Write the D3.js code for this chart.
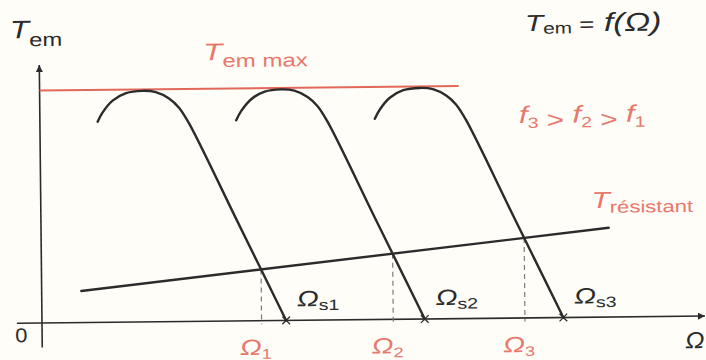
<!DOCTYPE html>
<html>
<head>
<meta charset="utf-8">
<script src="https://cdn.jsdelivr.net/npm/d3@7"></script>
<style>
  html, body { margin: 0; padding: 0; background: #fefdf8; }
  svg { display: block; }
  text { font-family: "Liberation Sans", Arial, sans-serif; }
</style>
</head>
<body>
<div id="viz"></div>
<script>
//Vitesses de synchronisme (une par fréquence f1, f2, f3)
const omegaS = [74, 116, 158];
const freqIndex = ['1', '2', '3'];

//Forme de la caractéristique Tem(Ω), écart par rapport à Ωs
const slipOffset = [-56.5, -55.0, -51.9, -47.8, -42.8, -38.8, -34.8, -31.8, -28.8, -14.4, 0];
const torqueShape = [86.3, 90.2, 95.3, 98.5, 99.4, 98.8, 96.0, 92.0, 85.2, 42.6, 0];

//Couple maximal
const tMax = 100;
const tMaxOmega = [0, 127];

//Couple résistant (droite)
const resistantOmega = [12, 172];
const resistantTorque = [13.6, 38.4];

//Couleurs
const COLOR_LINE = '#2b2b2b',
  COLOR_RED = '#e2685a',
  COLOR_RED_TEXT = '#e8786c',
  COLOR_DASH = '#7a7a7a';

const width = 706, height = 360;

const svg = d3.select('#viz')
  .append('svg')
    .attr('width', width)
    .attr('height', height);

svg.append('defs').append('marker')
    .attr('id', 'arrow')
    .attr('viewBox', '0 0 10 10')
    .attr('refX', 10).attr('refY', 5)
    .attr('markerWidth', 9).attr('markerHeight', 7)
    .attr('markerUnits', 'userSpaceOnUse')
    .attr('orient', 'auto')
  .append('path')
    .attr('d', 'M0,0 L10,5 L0,10 Z')
    .attr('fill', COLOR_LINE);

let x = d3.scaleLinear().domain([0, 200]).range([42, 702]);
let y = d3.scaleLinear().domain([0, 100]).range([323, 90.5]);

//Le schéma est légèrement incliné
let g = svg.append('g')
  .attr('transform', 'rotate(-0.6,' + x(0) + ',' + y(0) + ')');

//Axes
g.append('line')
  .attr('x1', x(-7.6)).attr('y1', y(0))
  .attr('x2', x(200.9)).attr('y2', y(0))
  .attr('stroke', COLOR_LINE).attr('stroke-width', 1.6)
  .attr('marker-end', 'url(#arrow)');

g.append('line')
  .attr('x1', x(0)).attr('y1', y(-10.5))
  .attr('x2', x(0)).attr('y2', y(111))
  .attr('stroke', COLOR_LINE).attr('stroke-width', 1.6)
  .attr('marker-end', 'url(#arrow)');

//Tem max
g.append('line')
  .attr('x1', x(tMaxOmega[0])).attr('y1', y(tMax))
  .attr('x2', x(tMaxOmega[1])).attr('y2', y(tMax))
  .attr('stroke', COLOR_RED).attr('stroke-width', 2);

//Intersection de la partie droite de chaque courbe avec Tresistant
const n = slipOffset.length;
const kR = (resistantTorque[1] - resistantTorque[0]) / (resistantOmega[1] - resistantOmega[0]);
function operatingPoint(ws) {
  let o1 = ws + slipOffset[n - 2], t1 = torqueShape[n - 2];
  let o2 = ws + slipOffset[n - 1], t2 = torqueShape[n - 1];
  let kC = (t2 - t1) / (o2 - o1);
  // t1 + kC*(w - o1) = rT0 + kR*(w - rO0)
  let w = (resistantTorque[0] - kR * resistantOmega[0] - t1 + kC * o1) / (kC - kR);
  return { omega: w, torque: t1 + kC * (w - o1) };
}
const points = omegaS.map(operatingPoint);

//Pointillés vers Ω1, Ω2, Ω3
g.selectAll('.dash')
  .data(points)
  .enter()
  .append('line')
  .attr('class', 'dash')
  .attr('x1', function(d) { return x(d.omega); })
  .attr('x2', function(d) { return x(d.omega); })
  .attr('y1', function(d) { return y(d.torque); })
  .attr('y2', y(-1.5))
  .attr('stroke', COLOR_DASH)
  .attr('stroke-width', 1.2)
  .attr('stroke-dasharray', '5,4');

//Caractéristiques Tem = f(Ω)
let line = d3.line()
  .x(function(d) { return x(d[0]); })
  .y(function(d) { return y(d[1]); })
  .curve(d3.curveCatmullRom);

g.selectAll('.curve')
  .data(omegaS)
  .enter()
  .append('path')
  .attr('class', 'curve')
  .attr('d', function(ws) { return line(slipOffset.map(function(o, i) { return [ws + o, torqueShape[i]]; })); })
  .attr('fill', 'none')
  .attr('stroke', COLOR_LINE)
  .attr('stroke-width', 2.4)
  .attr('stroke-linecap', 'round');

//Repères en Ωs
g.selectAll('.cross')
  .data(omegaS)
  .enter()
  .append('path')
  .attr('class', 'cross')
  .attr('transform', function(ws) { return 'translate(' + x(ws) + ',' + y(0) + ')'; })
  .attr('d', d3.symbol(d3.symbolTimes, 40))
  .attr('fill', 'none')
  .attr('stroke', COLOR_LINE)
  .attr('stroke-width', 1.3);

//Couple résistant
g.append('line')
  .attr('x1', x(resistantOmega[0])).attr('y1', y(resistantTorque[0]))
  .attr('x2', x(resistantOmega[1])).attr('y2', y(resistantTorque[1]))
  .attr('stroke', COLOR_LINE).attr('stroke-width', 2.4)
  .attr('stroke-linecap', 'round');

//Textes : morceaux {t, size, italic, dy, dx}
function label(px, py, parts, color, sx) {
  let t = g.append('text')
    .attr('transform', 'translate(' + px + ',' + py + ') scale(' + (sx || 1.3) + ',1)')
    .attr('fill', color || COLOR_LINE);
  parts.forEach(function(p) {
    t.append('tspan')
      .attr('font-size', p.size)
      .attr('font-style', p.italic ? 'italic' : 'normal')
      .attr('dy', p.dy || 0)
      .attr('dx', p.dx || 0)
      .text(p.t);
  });
  return t;
}

label(13, 38, [{t: 'T', size: 25, italic: true}, {t: 'em', size: 19, dy: 8}], COLOR_LINE, 1.25);
label(206, 62, [{t: 'T', size: 24, italic: true}, {t: 'em max', size: 18.5, dy: 7}], COLOR_RED_TEXT);
label(528, 36, [{t: 'T', size: 23, italic: true}, {t: 'em', size: 16, dy: 3},
  {t: ' =', size: 20, dy: -2}, {t: ' f(Ω)', size: 26, italic: true}], COLOR_LINE);

let fParts = [];
freqIndex.slice().reverse().forEach(function(k, i) {
  fParts.push({t: 'f', size: 24, italic: true, dy: i == 0 ? 0 : -5});
  fParts.push({t: k, size: 15, dy: 5});
  if (i < freqIndex.length - 1) fParts.push({t: ' > ', size: 23});
});
label(521, 128, fParts, COLOR_RED_TEXT);

label(x(resistantOmega[1]) - 17, y(resistantTorque[1]) - 20,
  [{t: 'T', size: 23, italic: true}, {t: 'résistant', size: 17, dy: 5}], COLOR_RED_TEXT);

//Ωs1, Ωs2, Ωs3
omegaS.forEach(function(ws, i) {
  label(x(ws) + 11, y(0) - 14, [{t: 'Ω', size: 22, italic: true}, {t: 's' + freqIndex[i], size: 15, dy: 4}], COLOR_LINE);
});

//Ω1, Ω2, Ω3
points.forEach(function(p, i) {
  label(x(p.omega) - 22, y(0) + 34, [{t: 'Ω', size: 22, italic: true}, {t: freqIndex[i], size: 14, dy: 4}], COLOR_RED_TEXT);
});

label(15, 342, [{t: '0', size: 20}], COLOR_LINE, 1.1);
label(685, 355, [{t: 'Ω', size: 23, italic: true}], COLOR_LINE, 1.1);
</script>
</body>
</html>
